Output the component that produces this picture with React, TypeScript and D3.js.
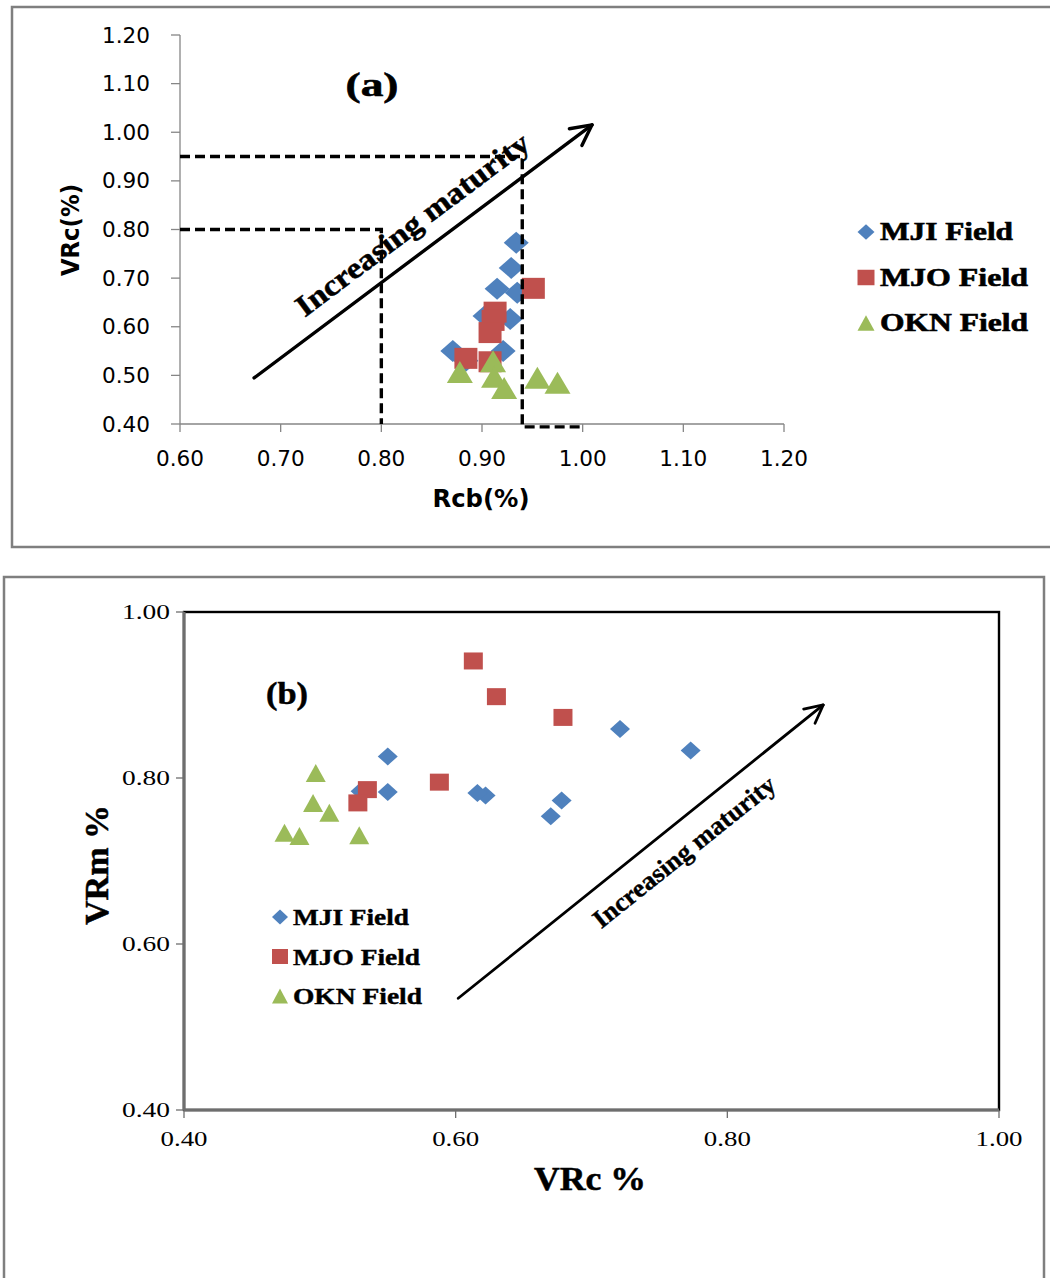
import React from 'react';
import * as d3 from 'd3';

const W = 1050;
const H = 1278;

const fieldNames = ['MJI Field', 'MJO Field', 'OKN Field'];
const fieldColors = ['#4F81BD', '#C0504D', '#9BBB59'];
const fieldShapes = ['diamond', 'square', 'triangle'];

// MJI field samples
const mjiRcb = [0.934, 0.929, 0.915, 0.935, 0.903, 0.928, 0.871, 0.921, 0.884];
const mjiVRc = [0.773, 0.721, 0.678, 0.670, 0.622, 0.616, 0.550, 0.550, 0.530];
const mjiVRm = [0.833, 0.859, 0.773, 0.754, 0.779, 0.782, 0.826, 0.783, 0.784];

// MJO field samples
const mjoRcb = [0.951, 0.913, 0.911, 0.908, 0.884, 0.908];
const mjoVRc = [0.679, 0.630, 0.613, 0.588, 0.535, 0.528];
const mjoVRm = [0.873, 0.898, 0.941, 0.795, 0.786, 0.770];

// OKN field samples
const oknRcb = [0.911, 0.878, 0.912, 0.955, 0.975, 0.922];
const oknVRc = [0.529, 0.507, 0.497, 0.495, 0.485, 0.474];
const oknVRm = [0.731, 0.758, 0.806, 0.770, 0.730, 0.734];

// axis ticks
const rcbTicks = [0.6, 0.7, 0.8, 0.9, 1.0, 1.1, 1.2];
const vrcTicksA = [0.4, 0.5, 0.6, 0.7, 0.8, 0.9, 1.0, 1.1, 1.2];
const vrcTicksB = [0.4, 0.6, 0.8, 1.0];
const vrmTicks = [0.4, 0.6, 0.8, 1.0];

// maturity cut-off guides on panel (a): [Rcb, VRc] vertices
const guideHigh: [number, number][] = [[0.6, 0.95], [0.94, 0.95], [0.94, 0.394], [1.0, 0.394]];
const guideLow: [number, number][] = [[0.6, 0.8], [0.8, 0.8], [0.8, 0.4]];

// maturity trend arrows, in data units: [start, tip]
const arrowA: [number, number][] = [[0.6736, 0.4947], [1.0093, 1.0152]];
const arrowB: [number, number][] = [[0.6019, 0.5346], [0.8706, 0.888]];

const series = fieldNames.map((name, i) => ({
  name,
  color: fieldColors[i],
  shape: fieldShapes[i],
  rcb: [mjiRcb, mjoRcb, oknRcb][i],
  vrc: [mjiVRc, mjoVRc, oknVRc][i],
  vrm: [mjiVRm, mjoVRm, oknVRm][i],
}));

const SANS = '"DejaVu Sans", Verdana, sans-serif';
const SERIF = '"Liberation Serif", "Times New Roman", serif';
const fmt = d3.format('.2f');

function markerPath(shape: string, w: number, h: number) {
  const a = w / 2;
  const b = h / 2;
  if (shape === 'diamond') return `M0,${-b}L${a},0L0,${b}L${-a},0Z`;
  if (shape === 'square') return `M${-a},${-b}H${a}V${b}H${-a}Z`;
  return `M0,${-b}L${a},${b}L${-a},${b}Z`;
}

const markerSizeA: Record<string, [number, number]> = {
  diamond: [25, 22], square: [23, 21], triangle: [26, 22],
};
const markerSizeB: Record<string, [number, number]> = {
  diamond: [20, 18], square: [19, 17], triangle: [20, 18],
};

function Arrow({ pts, sx, sy, width, head }: any) {
  const x1 = sx(pts[0][0]);
  const y1 = sy(pts[0][1]);
  const x2 = sx(pts[1][0]);
  const y2 = sy(pts[1][1]);
  const th = Math.atan2(y2 - y1, x2 - x1);
  const da = (27 * Math.PI) / 180;
  const p1 = [x2 - head * Math.cos(th - da), y2 - head * Math.sin(th - da)];
  const p2 = [x2 - head * Math.cos(th + da), y2 - head * Math.sin(th + da)];
  return (
    <g stroke="#000" strokeWidth={width} fill="none" strokeLinecap="round" strokeLinejoin="round">
      <line x1={x1} y1={y1} x2={x2} y2={y2} />
      <polyline points={`${p1[0]},${p1[1]} ${x2},${y2} ${p2[0]},${p2[1]}`} />
    </g>
  );
}

function Txt({ x, y, children, size, family, weight = 'normal', anchor = 'start', len, rotate = 0, central = false, halo = 0 }: any) {
  return (
    <text
      transform={`translate(${x},${y}) rotate(${rotate})`}
      fontSize={size}
      fontFamily={family}
      fontWeight={weight}
      textAnchor={anchor}
      dominantBaseline={central ? 'central' : 'auto'}
      textLength={len}
      lengthAdjust="spacingAndGlyphs"
      fill="#000"
      stroke={halo ? '#000' : 'none'}
      strokeWidth={halo}
    >
      {children}
    </text>
  );
}

function PanelA() {
  const x = d3.scaleLinear().domain([0.6, 1.2]).range([180, 784]);
  const y = d3.scaleLinear().domain([0.4, 1.2]).range([424, 35]);
  const guide = d3.line<[number, number]>().x((d) => x(d[0])).y((d) => y(d[1]));
  const axisColor = '#868686';
  return (
    <g>
      <rect x={12} y={7} width={1060} height={540} fill="#fff" stroke="#7f7f7f" strokeWidth={2.5} />
      {/* axes */}
      <line x1={x(0.6)} x2={x(0.6)} y1={y(1.2)} y2={y(0.4)} stroke={axisColor} strokeWidth={1.3} />
      <line x1={x(0.6)} x2={x(1.2)} y1={y(0.4)} y2={y(0.4)} stroke={axisColor} strokeWidth={1.3} />
      {vrcTicksA.map((v) => (
        <g key={'ya' + v}>
          <line x1={x(0.6) - 9} x2={x(0.6)} y1={y(v)} y2={y(v)} stroke={axisColor} strokeWidth={1.3} />
          <Txt x={150} y={y(v) + 7.5} size={20.5} family={SANS} anchor="end" len={48}>
            {fmt(v)}
          </Txt>
        </g>
      ))}
      {rcbTicks.map((v) => (
        <g key={'xa' + v}>
          <line x1={x(v)} x2={x(v)} y1={y(0.4)} y2={y(0.4) + 8} stroke={axisColor} strokeWidth={1.3} />
          <Txt x={x(v)} y={466} size={20.5} family={SANS} anchor="middle" len={48}>
            {fmt(v)}
          </Txt>
        </g>
      ))}
      <Txt x={481} y={507} size={24} family={SANS} weight="bold" anchor="middle" len={97}>
        Rcb(%)
      </Txt>
      <Txt x={71} y={230} size={24} family={SANS} weight="bold" anchor="middle" len={92} rotate={-90} central>
        VRc(%)
      </Txt>
      <Txt x={372} y={96} size={34} family={SERIF} weight="bold" anchor="middle" len={53} halo={0.6}>
        (a)
      </Txt>
      {/* samples */}
      {series.map((s) =>
        s.rcb.map((r, i) => (
          <path
            key={s.name + i}
            d={markerPath(s.shape, ...markerSizeA[s.shape])}
            transform={`translate(${x(r)},${y(s.vrc[i])})`}
            fill={s.color}
          />
        ))
      )}
      {/* guides */}
      <path d={guide(guideHigh) || ''} fill="none" stroke="#000" strokeWidth={3.4} strokeDasharray="10,5" />
      <path d={guide(guideLow) || ''} fill="none" stroke="#000" strokeWidth={3.4} strokeDasharray="10,5" />
      <Arrow pts={arrowA} sx={x} sy={y} width={3.4} head={23} />
      <Txt x={412} y={224} size={30} family={SERIF} weight="bold" anchor="middle" len={284} rotate={-36.9} central halo={0.5}>
        Increasing maturity
      </Txt>
      {/* legend */}
      {series.map((s, i) => (
        <g key={'la' + s.name}>
          <path
            d={markerPath(s.shape, 17, 15.5)}
            transform={`translate(866,${232 + i * 45.5})`}
            fill={s.color}
          />
          <Txt x={880} y={240 + i * 45.5} size={24.5} family={SERIF} weight="bold" len={i === 0 ? 133 : 148} halo={0.6}>
            {s.name}
          </Txt>
        </g>
      ))}
    </g>
  );
}

function PanelB() {
  const x = d3.scaleLinear().domain([0.4, 1.0]).range([184, 999]);
  const y = d3.scaleLinear().domain([0.4, 1.0]).range([1110, 612]);
  const axisColor = '#6e6e6e';
  return (
    <g>
      <rect x={4} y={577} width={1040} height={800} fill="#fff" stroke="#7f7f7f" strokeWidth={2.5} />
      <rect x={x(0.4)} y={y(1.0)} width={x(1.0) - x(0.4)} height={y(0.4) - y(1.0)} fill="none" stroke="#000" strokeWidth={2.4} />
      <line x1={x(0.4)} x2={x(0.4)} y1={y(1.0)} y2={y(0.4)} stroke={axisColor} strokeWidth={3} />
      <line x1={x(0.4)} x2={x(1.0)} y1={y(0.4)} y2={y(0.4)} stroke={axisColor} strokeWidth={3} />
      {vrmTicks.map((v) => (
        <g key={'yb' + v}>
          <line x1={x(0.4) - 8} x2={x(0.4)} y1={y(v)} y2={y(v)} stroke={axisColor} strokeWidth={1.3} />
          <Txt x={170} y={y(v) + 7} size={21} family={SERIF} anchor="end" len={48}>
            {fmt(v)}
          </Txt>
        </g>
      ))}
      {vrcTicksB.map((v) => (
        <g key={'xb' + v}>
          <line x1={x(v)} x2={x(v)} y1={y(0.4)} y2={y(0.4) + 8} stroke={axisColor} strokeWidth={1.3} />
          <Txt x={x(v)} y={1146} size={21} family={SERIF} anchor="middle" len={47}>
            {fmt(v)}
          </Txt>
        </g>
      ))}
      <Txt x={590} y={1190} size={34} family={SERIF} weight="bold" anchor="middle" len={112} halo={0.5}>
        VRc %
      </Txt>
      <Txt x={96} y={865} size={34} family={SERIF} weight="bold" anchor="middle" len={120} rotate={-90} central halo={0.5}>
        VRm %
      </Txt>
      <Txt x={287} y={704} size={32} family={SERIF} weight="bold" anchor="middle" len={42} halo={0.5}>
        (b)
      </Txt>
      {series.map((s) =>
        s.vrc.map((v, i) => (
          <path
            key={s.name + 'b' + i}
            d={markerPath(s.shape, ...markerSizeB[s.shape])}
            transform={`translate(${x(v)},${y(s.vrm[i])})`}
            fill={s.color}
          />
        ))
      )}
      <Arrow pts={arrowB} sx={x} sy={y} width={2.8} head={20} />
      <Txt x={684} y={852} size={26} family={SERIF} weight="bold" anchor="middle" len={226} rotate={-38.7} central halo={0.4}>
        Increasing maturity
      </Txt>
      {series.map((s, i) => (
        <g key={'lb' + s.name}>
          <path
            d={markerPath(s.shape, 16, 15)}
            transform={`translate(280,${917 + i * 39.5})`}
            fill={s.color}
          />
          <Txt x={293} y={925 + i * 39.5} size={22.5} family={SERIF} weight="bold" len={[116, 127, 129][i]} halo={0.4}>
            {s.name}
          </Txt>
        </g>
      ))}
    </g>
  );
}

export default function App() {
  return (
    <svg
      width={W}
      height={H}
      viewBox={`0 0 ${W} ${H}`}
      style={{ position: 'absolute', left: 0, top: 0, display: 'block', background: '#fff' }}
    >
      <rect width={W} height={H} fill="#fff" />
      <PanelA />
      <PanelB />
    </svg>
  );
}
